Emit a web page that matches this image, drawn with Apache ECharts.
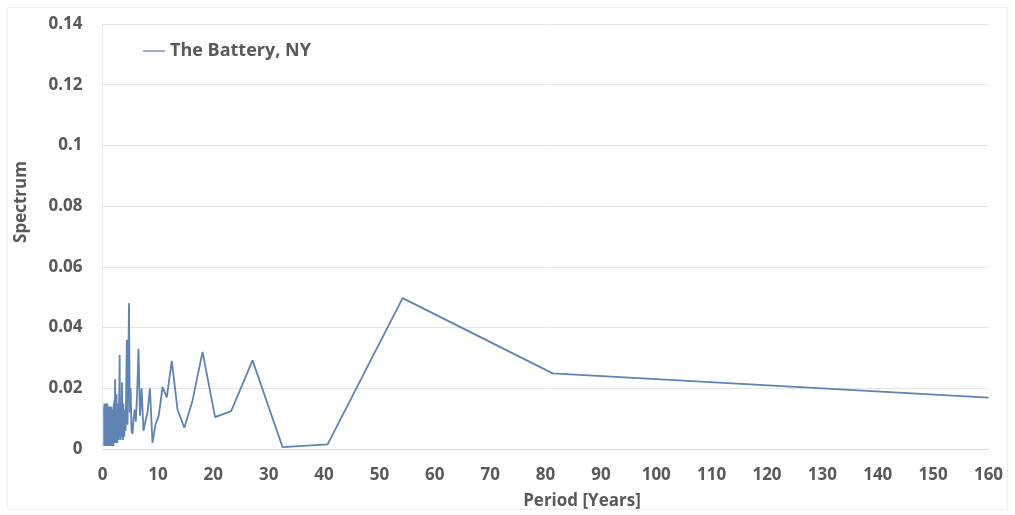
<!DOCTYPE html>
<html>
<head>
<meta charset="utf-8">
<title>The Battery, NY – Spectrum</title>
<script src="https://cdn.jsdelivr.net/npm/echarts@6/dist/echarts.min.js"></script>
<style>
  html, body { margin: 0; padding: 0; background: #ffffff; }
  #chart { width: 1015px; height: 515px; }
</style>
</head>
<body>
<div id="chart"></div>
<script>
// Spectrum of sea level at The Battery, NY, against period in years.
const seriesName = 'The Battery, NY';

// Period [years] of each spectral estimate
const periods = [
  0.28, 0.31, 0.34, 0.37, 0.40, 0.43, 0.46, 0.49, 0.52, 0.55,
  0.58, 0.61, 0.64, 0.67, 0.70, 0.73, 0.76, 0.79, 0.82, 0.85,
  0.88, 0.91, 0.94, 0.97, 1.00, 1.03, 1.06, 1.09, 1.12, 1.15,
  1.18, 1.21, 1.24, 1.27, 1.30, 1.33, 1.36, 1.39, 1.42, 1.45,
  1.48, 1.51, 1.54, 1.57, 1.60, 1.63, 1.66, 1.69, 1.72, 1.75,
  1.78, 1.81, 1.84, 1.87, 1.90, 1.93, 1.96, 1.99,
  2.03, 2.08, 2.13, 2.18, 2.23, 2.28, 2.33, 2.38, 2.43, 2.48,
  2.53, 2.58, 2.63, 2.68, 2.74, 2.80, 2.86, 2.92, 2.98, 3.04,
  3.10, 3.16, 3.22, 3.28, 3.34, 3.40, 3.46, 3.52, 3.58, 3.64,
  3.70, 3.76, 3.82, 3.88, 3.94, 4.00,
  4.07, 4.17, 4.28, 4.39, 4.52, 4.65, 4.78, 4.93, 5.08, 5.24,
  5.42, 5.61, 5.81, 6.02, 6.25, 6.50, 6.77, 7.07, 7.39, 7.74,
  8.13, 8.56, 9.03, 9.56, 10.16, 10.84, 11.61, 12.51, 13.55, 14.78,
  16.26, 18.07, 20.33, 23.23, 27.10, 32.52, 40.65, 54.20, 81.30, 160.0
];

// Spectrum value at each period
const spectrum = [
  0.014, 0.001, 0.015, 0.002, 0.012, 0.001, 0.014, 0.003, 0.013, 0.001,
  0.015, 0.002, 0.011, 0.001, 0.014, 0.003, 0.012, 0.001, 0.013, 0.002,
  0.015, 0.001, 0.010, 0.003, 0.014, 0.001, 0.012, 0.002, 0.013, 0.001,
  0.011, 0.002, 0.014, 0.001, 0.012, 0.003, 0.010, 0.001, 0.013, 0.002,
  0.012, 0.001, 0.014, 0.002, 0.009, 0.001, 0.012, 0.003, 0.011, 0.001,
  0.013, 0.002, 0.010, 0.001, 0.012, 0.002, 0.014, 0.001,
  0.015, 0.003, 0.016, 0.002, 0.012, 0.023, 0.004, 0.014, 0.002, 0.013,
  0.018, 0.003, 0.013, 0.002, 0.012, 0.004, 0.015, 0.003, 0.014, 0.020,
  0.031, 0.004, 0.012, 0.003, 0.013, 0.005, 0.015, 0.022, 0.004, 0.014,
  0.003, 0.015, 0.005, 0.013, 0.004, 0.010,
  0.012, 0.006, 0.020, 0.036, 0.008, 0.025, 0.048, 0.012, 0.020, 0.006,
  0.005, 0.010, 0.013, 0.009, 0.018, 0.033, 0.011, 0.020, 0.006, 0.009,
  0.012, 0.020, 0.002, 0.008, 0.011, 0.0205, 0.017, 0.029, 0.013, 0.007,
  0.016, 0.032, 0.0105, 0.0125, 0.0292, 0.0006, 0.0015, 0.0497, 0.0249, 0.0169
];

// Axis ticks
const xTicks = { min: 0, max: 160, step: 10 };
const yTicks = { min: 0, max: 0.14, step: 0.02 };

const textColor = '#595959';
const fontFamily = '"Open Sans", "DejaVu Sans", sans-serif';

const points = periods.map((p, i) => [p, spectrum[i]]);

const chart = echarts.init(document.getElementById('chart'), null, { renderer: 'canvas' });

chart.setOption({
  animation: false,
  backgroundColor: '#ffffff',
  grid: { left: 102.5, right: 26.5, top: 24, bottom: 66, containLabel: false },
  legend: {
    data: [seriesName],
    left: 138,
    top: 37,
    itemWidth: 22,
    itemHeight: 14,
    itemGap: 4,
    icon: 'path://M0,6 L22,6 L22,8 L0,8 Z',
    itemStyle: { color: '#9db0c6' },
    textStyle: { color: textColor, fontSize: 18, fontWeight: 'bold', fontFamily: fontFamily }
  },
  xAxis: {
    type: 'value',
    min: xTicks.min,
    max: xTicks.max,
    interval: xTicks.step,
    axisLine: { show: true, lineStyle: { color: '#d9d9d9', width: 1 } },
    axisTick: { show: false },
    splitLine: { show: false },
    axisLabel: {
      color: textColor, fontSize: 17, fontWeight: 'bold', fontFamily: fontFamily,
      margin: 18
    }
  },
  yAxis: {
    type: 'value',
    min: yTicks.min,
    max: yTicks.max,
    interval: yTicks.step,
    axisLine: { show: true, lineStyle: { color: '#ececec', width: 1 } },
    axisTick: { show: false },
    splitLine: { show: true, lineStyle: { color: '#e4e4e4', width: 1 } },
    axisLabel: {
      color: textColor, fontSize: 17, fontWeight: 'bold', fontFamily: fontFamily,
      margin: 20,
      formatter: v => String(parseFloat(v.toFixed(2)))
    }
  },
  graphic: [
    {
      type: 'rect',
      shape: { x: 7.5, y: 7.5, width: 1000, height: 502 },
      style: { fill: 'none', stroke: '#f0f0f0', lineWidth: 1 },
      silent: true, z: -1
    },
    {
      type: 'text',
      x: 582, y: 501,
      style: {
        text: 'Period [Years]', fill: textColor, font: 'bold 17px ' + fontFamily,
        textAlign: 'center', textVerticalAlign: 'middle'
      }
    },
    {
      type: 'text',
      x: 21, y: 202,
      rotation: Math.PI / 2,
      style: {
        text: 'Spectrum', fill: textColor, font: 'bold 17px ' + fontFamily,
        textAlign: 'center', textVerticalAlign: 'middle'
      }
    }
  ],
  series: [{
    name: seriesName,
    type: 'line',
    data: points,
    symbol: 'none',
    clip: true,
    lineStyle: { color: '#5f83b2', width: 1.8 },
    itemStyle: { color: '#9db0c6' }
  }]
});
</script>
</body>
</html>
